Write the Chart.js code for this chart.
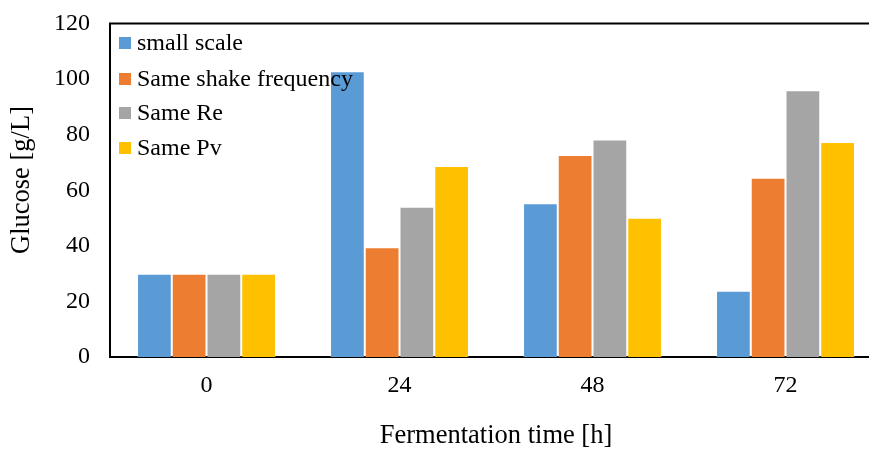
<!DOCTYPE html>
<html>
<head>
<meta charset="utf-8">
<script src="https://cdn.jsdelivr.net/npm/chart.js@4"></script>
<style>
  html, body { margin: 0; padding: 0; background: #fff; overflow: hidden; width: 869px; height: 449px; }
  #wrap { position: absolute; left: 0; top: 0; width: 890px; height: 449px; }
</style>
</head>
<body>
<div id="wrap"><canvas id="c" width="890" height="449"></canvas></div>
<script>
const categories = ['0', '24', '48', '72'];
const seriesNames = ['small scale', 'Same shake frequency', 'Same Re', 'Same Pv'];
const smallScale = [30, 102.8, 55.3, 23.8];
const sameShakeFrequency = [30, 39.5, 72.7, 64.5];
const sameRe = [30, 54.1, 78.3, 96.0];
const samePv = [30, 68.7, 50.1, 77.4];
const seriesColors = ['#5B9BD5', '#ED7D31', '#A5A5A5', '#FFC000'];
const yTicks = [0, 20, 40, 60, 80, 100, 120];
const yTitle = 'Glucose [g/L]';
const xTitle = 'Fermentation time [h]';

const FONT = "'Liberation Serif', 'Times New Roman', serif";

const decorPlugin = {
  id: 'decor',
  afterDraw(chart) {
    const ctx = chart.ctx;
    const ca = chart.chartArea;
    ctx.save();
    // top border
    ctx.strokeStyle = '#000';
    ctx.lineWidth = 2;
    ctx.beginPath();
    ctx.moveTo(ca.left - 1, ca.top);
    ctx.lineTo(ca.right, ca.top);
    ctx.stroke();
    // y axis title
    ctx.save();
    ctx.translate(22, 180);
    ctx.rotate(-Math.PI / 2);
    ctx.font = '26.5px ' + FONT;
    ctx.fillStyle = '#000';
    ctx.textAlign = 'center';
    ctx.textBaseline = 'middle';
    ctx.fillText(yTitle, 0, 0);
    ctx.restore();
    // legend
    const ys = [43, 79, 113, 148];
    ctx.font = '24px ' + FONT;
    ctx.textBaseline = 'middle';
    ctx.textAlign = 'left';
    chart.data.datasets.forEach((ds, i) => {
      ctx.fillStyle = ds.backgroundColor;
      ctx.fillRect(ca.left + 9, ys[i] - 6, 12, 12);
      ctx.fillStyle = '#000';
      ctx.fillText(ds.label, ca.left + 27, ys[i] + 1);
    });
    ctx.restore();
  }
};

const seriesData = [smallScale, sameShakeFrequency, sameRe, samePv];

new Chart(document.getElementById('c'), {
  type: 'bar',
  data: {
    labels: categories,
    datasets: seriesNames.map((n, i) => ({
      label: n,
      data: seriesData[i],
      backgroundColor: seriesColors[i],
      borderColor: 'rgba(255,255,255,0.25)',
      borderWidth: 1,
      categoryPercentage: 0.72,
      barPercentage: 1.0
    }))
  },
  options: {
    responsive: false,
    animation: false,
    devicePixelRatio: 1,
    layout: { padding: { left: 0, right: 8, top: 23.5, bottom: 0 } },
    plugins: {
      legend: { display: false },
      tooltip: { enabled: false }
    },
    scales: {
      x: {
        grid: { display: false, drawTicks: false },
        border: { display: true, color: '#000', width: 2 },
        ticks: { color: '#000', font: { family: FONT, size: 24 }, padding: 14 },
        title: { display: true, text: xTitle, color: '#000', align: 'center',
                 font: { family: FONT, size: 26.5, lineHeight: 1 }, padding: { top: 0, bottom: 0 } },
        afterFit(scale) { scale.height = 92; scale.paddingLeft = 0; scale.paddingRight = 0; }
      },
      y: {
        min: 0, max: 120,
        afterBuildTicks(scale) { scale.ticks = yTicks.map(v => ({ value: v })); },
        grid: { display: false, drawTicks: false },
        border: { display: true, color: '#000', width: 2 },
        ticks: { color: '#000', font: { family: FONT, size: 24 }, padding: 20 },
        title: { display: false },
        afterFit(scale) { scale.width = 110; scale.paddingTop = 0; scale.paddingBottom = 0; }
      }
    }
  },
  plugins: [decorPlugin]
});
</script>
</body>
</html>
